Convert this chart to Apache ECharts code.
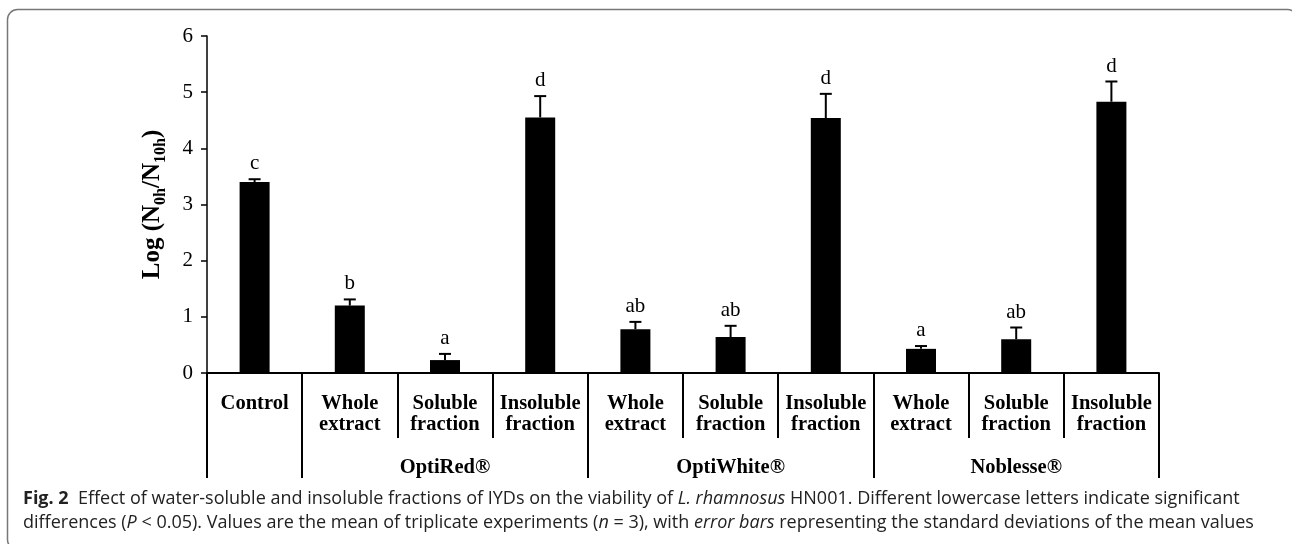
<!DOCTYPE html>
<html>
<head>
<meta charset="utf-8">
<script src="https://cdn.jsdelivr.net/npm/echarts@6/dist/echarts.min.js"></script>
<style>
  html, body { margin: 0; padding: 0; background: #fff; }
  #myChart { width: 1292px; height: 544px; }
</style>
</head>
<body>
<div id="myChart"></div>
<script>
// categories on the x axis, one per bar
const categories = ['Control', 'Whole\nextract', 'Soluble\nfraction', 'Insoluble\nfraction',
  'Whole\nextract', 'Soluble\nfraction', 'Insoluble\nfraction',
  'Whole\nextract', 'Soluble\nfraction', 'Insoluble\nfraction'];
// second label row: group name and how many bars it spans
const groupNames = ['', 'OptiRed®', 'OptiWhite®', 'Noblesse®'];
const groupSizes = [1, 3, 3, 3];
// Log(N0h/N10h) means, standard deviations and significance letters
const means = [3.40, 1.20, 0.23, 4.55, 0.78, 0.64, 4.54, 0.43, 0.60, 4.83];
const sds = [0.05, 0.11, 0.11, 0.38, 0.13, 0.20, 0.43, 0.05, 0.21, 0.36];
const letters = ['c', 'b', 'a', 'd', 'ab', 'ab', 'd', 'a', 'ab', 'd'];
// y axis range
const yMin = 0, yMax = 6, yStep = 1;

const serif = '"Liberation Serif", "Times New Roman", serif';
const sans = '"Open Sans", "Noto Sans", sans-serif';

// build the group axis: label sits on the middle bar of a group, ticks at group edges
const groupLabels = [];
const groupStarts = [];
groupSizes.forEach(function (n, g) {
  groupStarts.push(groupLabels.length);
  for (let k = 0; k < n; k++) {
    groupLabels.push(k === Math.floor(n / 2) ? groupNames[g] : '');
  }
});

let myChart = echarts.init(document.getElementById('myChart'));
let options = {
  backgroundColor: '#fff',
  animation: false,
  grid: { left: 207, top: 36, right: 133, bottom: 171 },
  xAxis: [
    {
      type: 'category',
      data: categories,
      position: 'bottom',
      axisLine: { lineStyle: { color: '#000', width: 2 } },
      axisTick: { show: true, interval: 0, length: 65, lineStyle: { color: '#000', width: 2 } },
      axisLabel: {
        interval: 0, margin: 20, color: '#000',
        fontFamily: serif, fontWeight: 'bold', fontSize: 20.5, lineHeight: 21
      }
    },
    {
      // 分组那一行 (OptiRed® / OptiWhite® / Noblesse®)
      type: 'category',
      data: groupLabels,
      position: 'bottom',
      offset: 0,
      axisLine: { show: false },
      axisTick: {
        show: true, length: 105,
        interval: function (i) { return groupStarts.indexOf(i) >= 0; },
        lineStyle: { color: '#000', width: 2 }
      },
      axisLabel: {
        interval: function (i) { return groupLabels[i] !== ''; },
        margin: 84, color: '#000',
        fontFamily: serif, fontWeight: 'bold', fontSize: 20.5
      }
    }
  ],
  yAxis: {
    type: 'value',
    min: yMin, max: yMax, interval: yStep,
    name: '{m|Log (N}{s|0h}{m|/N}{s|10h}{m|)}',
    nameLocation: 'middle',
    nameGap: 38,
    nameTextStyle: {
      rich: {
        m: { fontFamily: serif, fontWeight: 'bold', fontSize: 25, lineHeight: 32, color: '#000' },
        s: { fontFamily: serif, fontWeight: 'bold', fontSize: 16, verticalAlign: 'bottom', color: '#000' }
      }
    },
    axisLine: { show: true, lineStyle: { color: '#000', width: 1.5 } },
    axisTick: { show: true, length: 6, lineStyle: { color: '#000', width: 1.5 } },
    axisLabel: { margin: 14, color: '#000', fontFamily: serif, fontSize: 21 },
    splitLine: { show: false }
  },
  series: [
    {
      type: 'bar',
      data: means,
      barWidth: 30,
      itemStyle: { color: '#000' }
    },
    {
      // error bars (upper half only) + letters
      type: 'custom',
      z: 5,
      data: means.map(function (m, i) { return [i, m, sds[i]]; }),
      renderItem: function (params, api) {
        let i = api.value(0), m = api.value(1), e = api.value(2);
        let base = api.coord([i, m]);
        let top = api.coord([i, m + e]);
        return {
          type: 'group',
          children: [
            { type: 'line', shape: { x1: base[0], y1: base[1], x2: top[0], y2: top[1] }, style: { stroke: '#000', lineWidth: 2 } },
            { type: 'line', shape: { x1: top[0] - 6, y1: top[1], x2: top[0] + 6, y2: top[1] }, style: { stroke: '#000', lineWidth: 2 } },
            {
              type: 'text', x: top[0], y: top[1] - 5,
              style: { text: letters[params.dataIndex], fill: '#000', font: '21px ' + serif, textAlign: 'center', textVerticalAlign: 'bottom' }
            }
          ]
        };
      }
    }
  ],
  graphic: [
    {
      type: 'rect', silent: true,
      shape: { x: 7.5, y: 9.5, width: 1290, height: 540, r: 10 },
      style: { fill: 'none', stroke: '#777', lineWidth: 1.5 }
    },
    {
      type: 'text', left: 23, top: 490,
      style: {
        text: '{b|Fig. 2}{n|  Effect of water-soluble and insoluble fractions of IYDs on the viability of }{i|L. rhamnosus}{n| HN001. Different lowercase letters indicate significant}',
        rich: {
          b: { fontFamily: sans, fontWeight: 'bold', fontSize: 18, fill: '#222' },
          n: { fontFamily: sans, fontSize: 18, fill: '#222' },
          i: { fontFamily: sans, fontStyle: 'italic', fontSize: 18, fill: '#222' }
        }
      }
    },
    {
      type: 'text', left: 23, top: 514,
      style: {
        text: '{n|differences (}{i|P}{n| < 0.05). Values are the mean of triplicate experiments (}{i|n}{n| = 3), with }{i|error bars}{n| representing the standard deviations of the mean values}',
        rich: {
          n: { fontFamily: sans, fontSize: 18, fill: '#222' },
          i: { fontFamily: sans, fontStyle: 'italic', fontSize: 18, fill: '#222' }
        }
      }
    }
  ]
};
myChart.setOption(options);
</script>
</body>
</html>
